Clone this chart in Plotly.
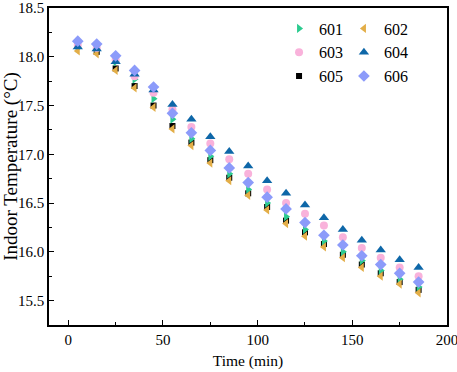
import plotly.graph_objects as go

time_min = [5, 15, 25, 35, 45, 55, 65, 75, 85, 95, 105, 115, 125, 135, 145, 155, 165, 175, 185]

s601 = [18.09, 18.07, 17.95, 17.77, 17.57, 17.36, 17.16, 16.98, 16.80, 16.64, 16.50, 16.36, 16.23, 16.11, 16.00, 15.91, 15.81, 15.72, 15.64]
s602 = [18.06, 18.03, 17.86, 17.68, 17.48, 17.26, 17.09, 16.91, 16.73, 16.58, 16.43, 16.29, 16.16, 16.05, 15.94, 15.84, 15.75, 15.67, 15.58]
s603 = [18.12, 18.09, 17.97, 17.80, 17.63, 17.46, 17.28, 17.11, 16.95, 16.80, 16.64, 16.50, 16.39, 16.27, 16.15, 16.04, 15.94, 15.84, 15.75]
s604 = [18.10, 18.08, 17.95, 17.82, 17.66, 17.51, 17.36, 17.18, 17.03, 16.88, 16.73, 16.60, 16.48, 16.35, 16.23, 16.12, 16.02, 15.92, 15.84]
s605 = [18.11, 18.05, 17.88, 17.70, 17.50, 17.29, 17.12, 16.94, 16.76, 16.60, 16.46, 16.32, 16.20, 16.08, 15.97, 15.87, 15.78, 15.69, 15.61]
s606 = [18.16, 18.13, 18.01, 17.86, 17.69, 17.42, 17.22, 17.04, 16.86, 16.71, 16.56, 16.44, 16.30, 16.17, 16.07, 15.96, 15.87, 15.78, 15.69]

x_ticks = [0, 50, 100, 150, 200]
y_ticks = [15.5, 16.0, 16.5, 17.0, 17.5, 18.0, 18.5]
y_tick_text = ["15.5", "16.0", "16.5", "17.0", "17.5", "18.0", "18.5"]

# (name, values, symbol, color, size, legend, legend rank)
series = [
    ("605", s605, "square", "#000000", 6, "legend", 3),
    ("601", s601, "triangle-right", "#2BCB8F", 8, "legend", 1),
    ("602", s602, "triangle-left", "#E3AE48", 8, "legend2", 1),
    ("603", s603, "circle", "#F9B2DB", 8, "legend", 2),
    ("604", s604, "triangle-up", "#0E67A8", 9, "legend2", 2),
    ("606", s606, "diamond", "#8C9BFA", 9, "legend2", 3),
]

FONT = "Liberation Serif"

fig = go.Figure()
for name, vals, sym, col, sz, lg, rank in series:
    fig.add_trace(go.Scatter(
        x=time_min, y=vals, mode="markers", name=name, legend=lg, legendrank=rank,
        marker=dict(symbol=sym, color=col, size=sz, line=dict(width=0)),
    ))

axis_common = dict(
    showline=True, linecolor="black", linewidth=1.5, mirror=True,
    ticks="inside", ticklen=5, tickwidth=1.2, tickcolor="black",
    showgrid=False, zeroline=False, automargin=False,
    ticklabeloverflow="allow",
    tickfont=dict(family=FONT, size=15, color="black"),
)

fig.update_xaxes(
    range=[-10.2, 200], tickmode="array", tickvals=x_ticks,
    ticktext=[str(v) for v in x_ticks],
    minor=dict(ticks="inside", ticklen=3, tickwidth=1, tickcolor="black", tickvals=[25, 75, 125, 175]),
    title_text="Time (min)", title_standoff=8,
    title_font=dict(family=FONT, size=15.5, color="black"),
    **axis_common,
)
fig.update_yaxes(
    range=[15.25, 18.5], tickmode="array", tickvals=y_ticks, ticktext=y_tick_text,
    minor=dict(ticks="inside", ticklen=3, tickwidth=1, tickcolor="black", dtick=0.25),
    title_text="Indoor Temperature (°C)", title_standoff=2,
    title_font=dict(family=FONT, size=19, color="black"),
    **axis_common,
)

legend_common = dict(
    font=dict(family=FONT, size=16, color="black"),
    bgcolor="rgba(0,0,0,0)", borderwidth=0, tracegroupgap=0,
    yanchor="top", xanchor="left", orientation="v",
)

fig.update_layout(
    width=457, height=372,
    margin=dict(l=49, r=10, t=8, b=47),
    paper_bgcolor="white", plot_bgcolor="white",
    showlegend=True,
    legend=dict(x=0.578, y=0.989, **legend_common),
    legend2=dict(x=0.741, y=0.989, **legend_common),
)

fig.write_html("out.html", config={"displayModeBar": False},
               post_script="document.body.style.margin='0px';")
